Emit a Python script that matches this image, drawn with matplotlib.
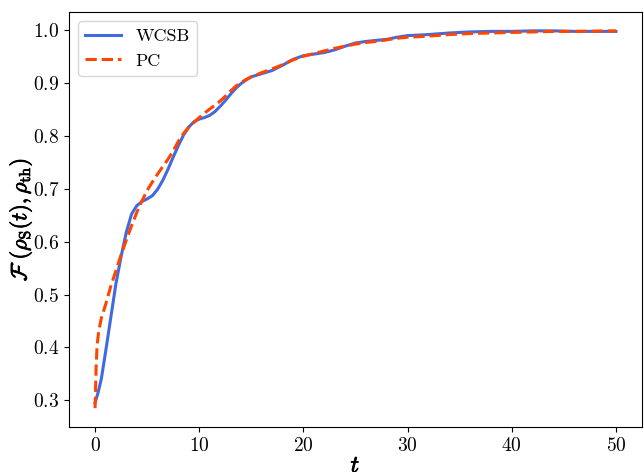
import matplotlib
matplotlib.use("Agg")
import matplotlib.pyplot as plt
import matplotlib.patheffects as pe

plt.rcParams['font.family'] = 'serif'
plt.rcParams['font.serif'] = ['cmr10', 'DejaVu Serif']
plt.rcParams['mathtext.fontset'] = 'cm'
plt.rcParams['axes.formatter.use_mathtext'] = True
plt.rcParams['axes.unicode_minus'] = False

t_wcsb = [0, 0.3, 0.6, 1.0, 1.5, 2.0, 2.5, 3.0, 3.5, 4.0, 4.5, 5.0, 5.5, 6.0, 6.5,
          7.0, 7.5, 8.0, 8.5, 9.0, 9.5, 10, 10.5, 11, 11.5, 12, 12.5, 13, 13.5, 14,
          14.5, 15, 16, 17, 18, 19, 20, 21, 22, 23, 24, 25, 26, 27, 28, 29, 30, 32,
          34, 36, 38, 40, 42, 44, 46, 48, 50]
wcsb = [0.295, 0.315, 0.34, 0.39, 0.455, 0.52, 0.572, 0.618, 0.652, 0.668, 0.676,
        0.681, 0.687, 0.699, 0.716, 0.737, 0.76, 0.782, 0.802, 0.817, 0.827, 0.832,
        0.835, 0.839, 0.846, 0.856, 0.867, 0.879, 0.89, 0.899, 0.906, 0.912, 0.918,
        0.924, 0.934, 0.945, 0.952, 0.955, 0.958, 0.963, 0.97, 0.976, 0.979, 0.981,
        0.983, 0.987, 0.990, 0.992, 0.995, 0.997, 0.998, 0.998, 0.999, 0.999, 0.998,
        0.998, 0.998]

t_pc = [0, 0.1, 0.2, 0.35, 0.6, 1.0, 1.5, 2.0, 2.5, 3.0, 3.5, 4.0, 4.5, 5.0, 5.5,
        6.0, 6.5, 7.0, 7.5, 8.0, 8.5, 9.0, 9.5, 10, 10.5, 11, 11.5, 12, 12.5, 13,
        13.5, 14, 14.5, 15, 16, 17, 18, 19, 20, 21, 22, 23, 24, 25, 26, 27, 28, 29,
        30, 32, 34, 36, 38, 40, 42, 44, 46, 48, 50]
pc = [0.285, 0.36, 0.405, 0.43, 0.455, 0.48, 0.515, 0.545, 0.575, 0.603, 0.63,
      0.655, 0.677, 0.697, 0.713, 0.728, 0.742, 0.756, 0.772, 0.79, 0.805, 0.817,
      0.826, 0.835, 0.843, 0.851, 0.858, 0.866, 0.875, 0.885, 0.894, 0.901, 0.907,
      0.912, 0.92, 0.927, 0.935, 0.944, 0.951, 0.956, 0.961, 0.966, 0.97, 0.974,
      0.977, 0.979, 0.982, 0.985, 0.987, 0.989, 0.992, 0.994, 0.995, 0.996, 0.997,
      0.998, 0.998, 0.9985, 0.999]

labels = ['WCSB', 'PC']
xticks = [0, 10, 20, 30, 40, 50]
yticks = [0.3, 0.4, 0.5, 0.6, 0.7, 0.8, 0.9, 1.0]

fig = plt.figure(figsize=(6.44, 4.72), dpi=100)
ax = fig.add_axes([69/644, 45/472, (642-69)/644, (427-12)/472])

ax.plot(t_wcsb, wcsb, color='royalblue', lw=2.2, label=labels[0])
ax.plot(t_pc, pc, color='orangered', lw=2.2, ls='--', label=labels[1])

ax.set_xticks(xticks)
ax.set_yticks(yticks)
ax.set_xticklabels([f'${v}$' for v in xticks])
ax.set_yticklabels([f'${v:.1f}$' for v in yticks])
ax.tick_params(labelsize=14)

bold = [pe.withStroke(linewidth=0.6, foreground='black')]
ax.set_xlabel(r'$t$', fontsize=17, labelpad=0, path_effects=bold)
ax.set_ylabel(r'$\mathcal{F}\;\left(\rho_{\mathrm{S}}(t),\rho_{\mathrm{th}}\right)$',
              fontsize=16, labelpad=-1, path_effects=bold)

leg = ax.legend(loc='upper left', fontsize=13)

fig.savefig('out.png', dpi=100)
